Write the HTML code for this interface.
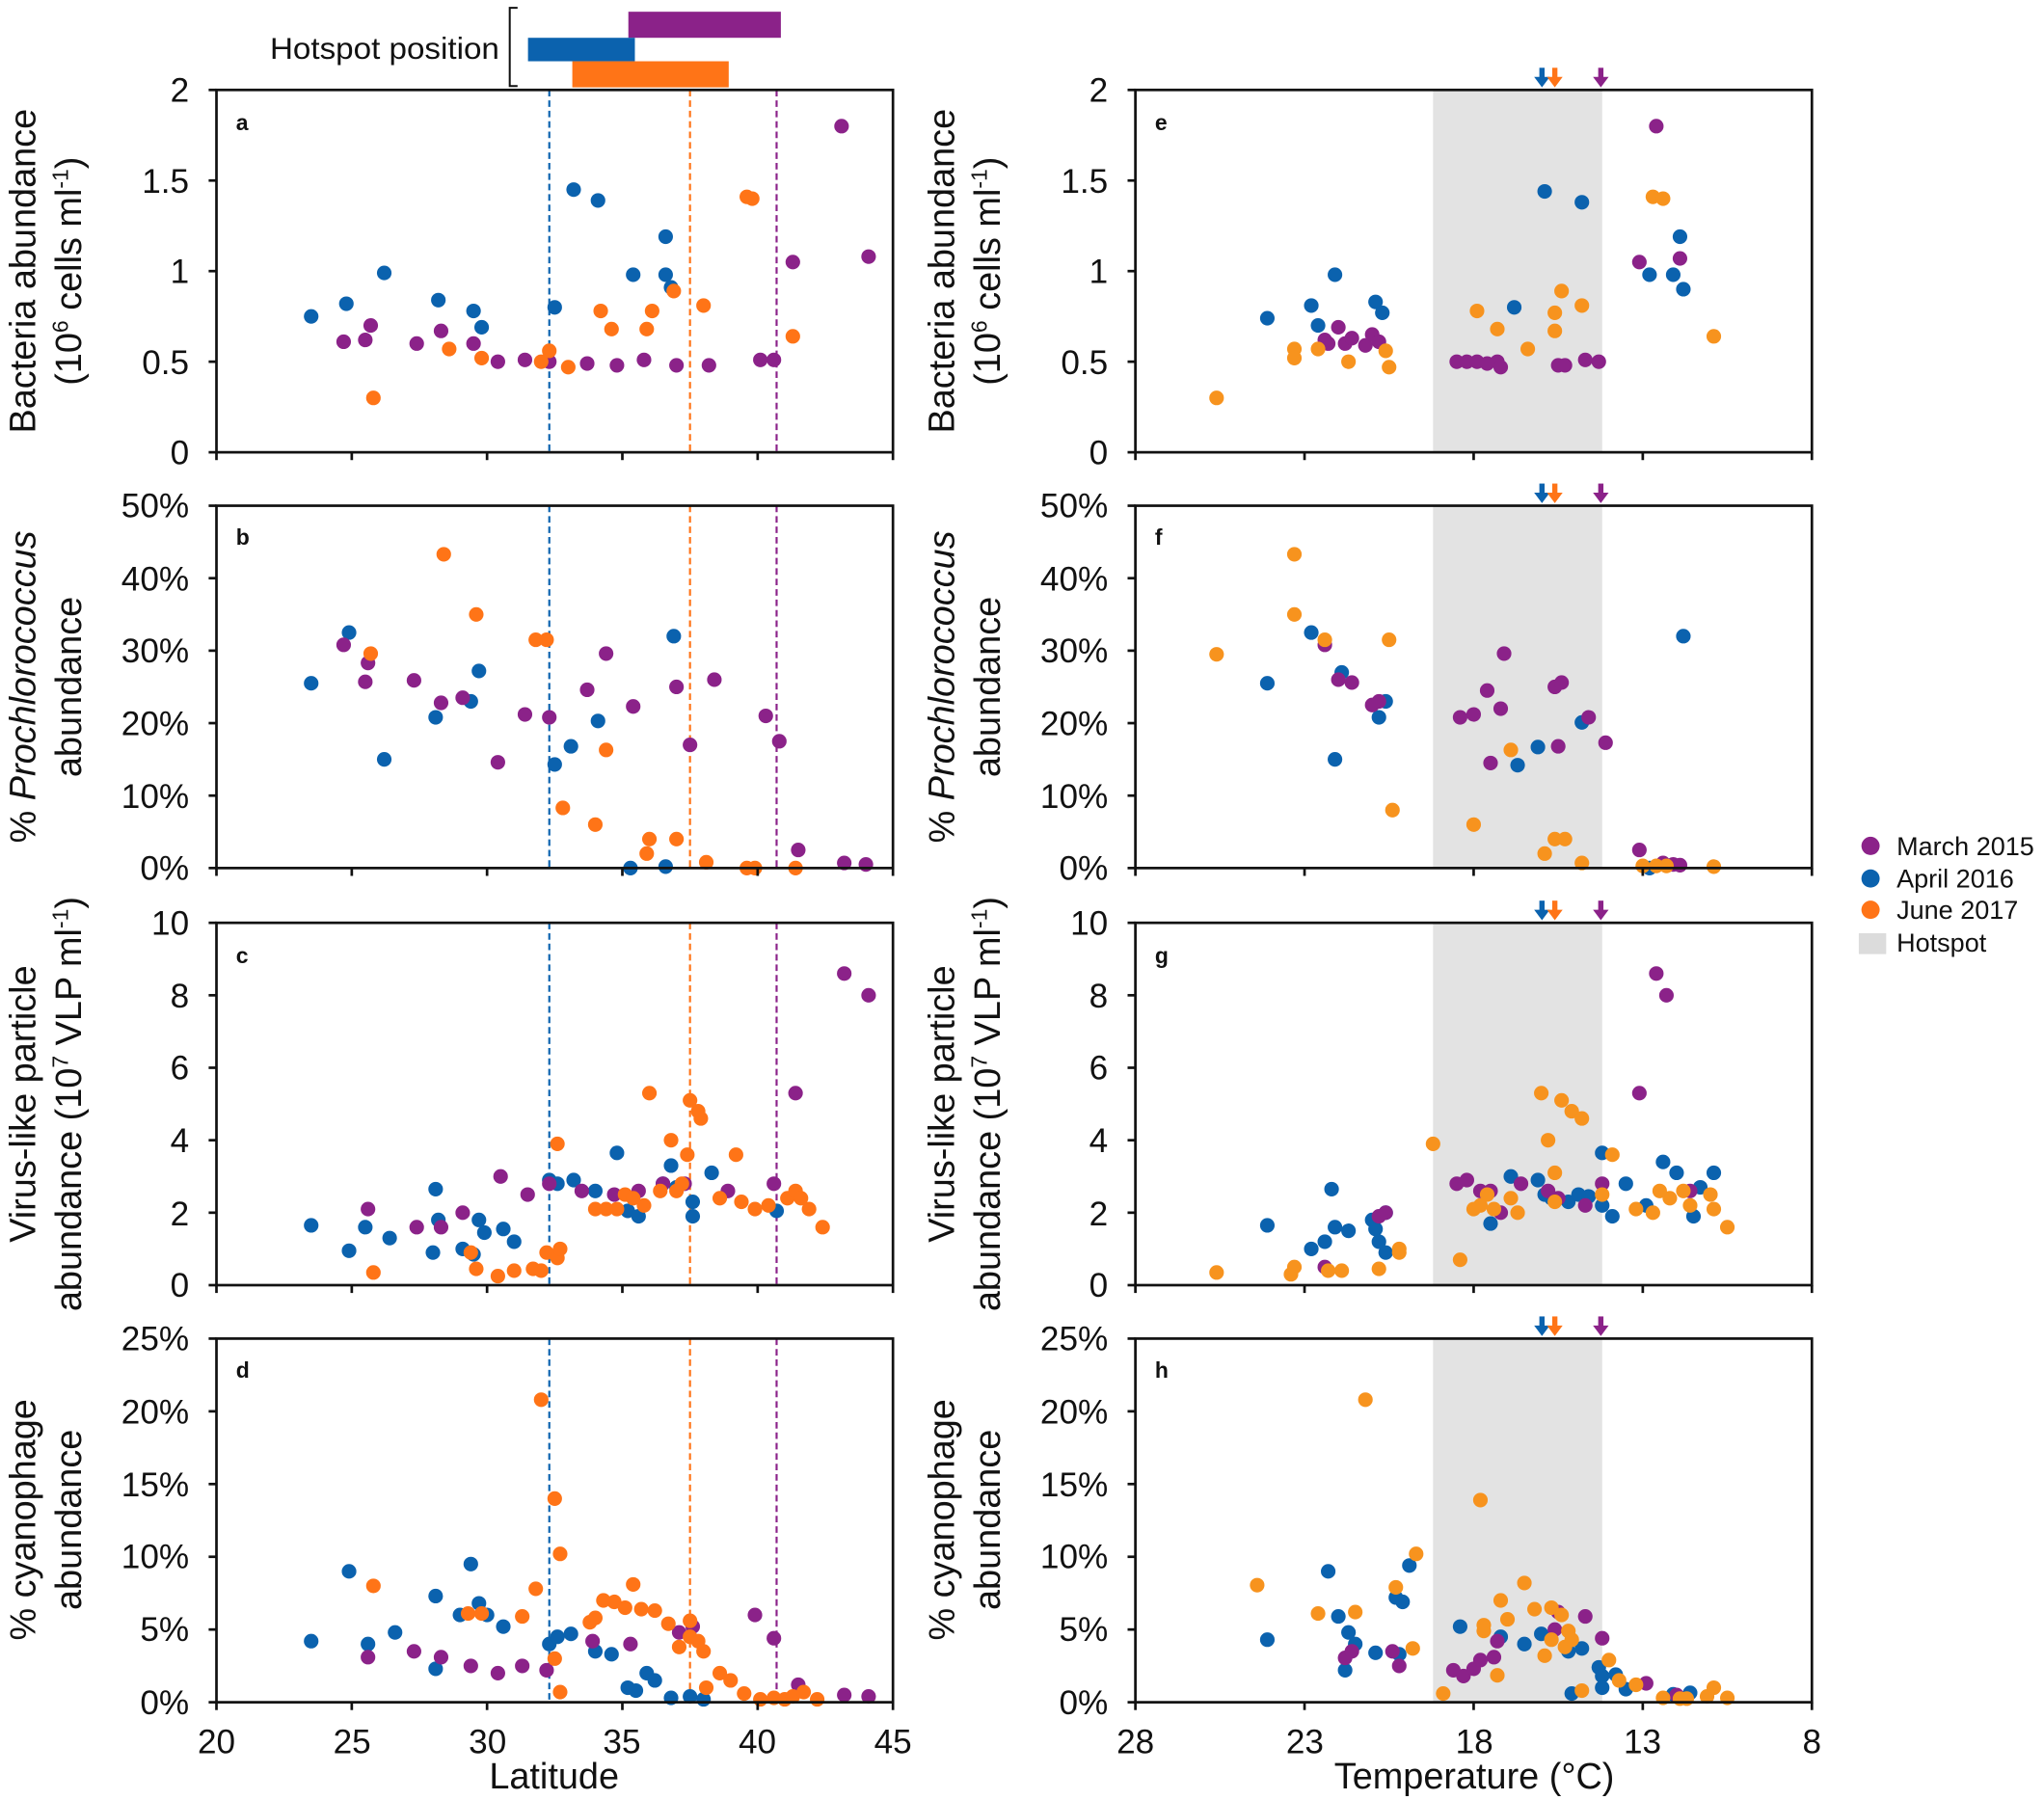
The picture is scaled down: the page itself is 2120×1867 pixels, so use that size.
<!DOCTYPE html>
<html><head><meta charset="utf-8"><style>
html,body{margin:0;padding:0;background:#fff}
svg{display:block}
text{font-family:"Liberation Sans",Arial,sans-serif;fill:#111}
.t{font-size:26px}
.ax{font-size:28px}
.lt{font-size:17px;font-weight:bold}
</style></head><body>
<svg id="s" width="2120" height="1867" viewBox="0 0 1568 1381" xmlns="http://www.w3.org/2000/svg">
<rect width="1568" height="1381" fill="#fff"/>
<rect x="482" y="9" width="117" height="20" fill="#8B2289"/>
<rect x="405" y="29" width="82" height="18" fill="#0B62AE"/>
<rect x="439" y="47" width="120" height="20" fill="#FF7417"/>
<path d="M397 6 H391 V66 H397" fill="none" stroke="#111" stroke-width="1.5"/>
<text x="207" y="45" style="font-size:23px" textLength="176" lengthAdjust="spacingAndGlyphs">Hotspot position</text>
<g id="shade"></g>
<g id="g"></g>
<g class="t" text-anchor="end">
<text x="145" y="78">2</text><text x="145" y="148">1.5</text><text x="145" y="217">1</text><text x="145" y="287">0.5</text><text x="145" y="356">0</text>
<text x="145" y="397">50%</text><text x="145" y="453">40%</text><text x="145" y="508">30%</text><text x="145" y="564">20%</text><text x="145" y="620">10%</text><text x="145" y="675">0%</text>
<text x="145" y="717">10</text><text x="145" y="773">8</text><text x="145" y="828">6</text><text x="145" y="884">4</text><text x="145" y="940">2</text><text x="145" y="995">0</text>
<text x="145" y="1036">25%</text><text x="145" y="1092">20%</text><text x="145" y="1148">15%</text><text x="145" y="1203">10%</text><text x="145" y="1259">5%</text><text x="145" y="1315">0%</text>
</g>
<g class="t" text-anchor="end">
<text x="850" y="78">2</text><text x="850" y="148">1.5</text><text x="850" y="217">1</text><text x="850" y="287">0.5</text><text x="850" y="356">0</text>
<text x="850" y="397">50%</text><text x="850" y="453">40%</text><text x="850" y="508">30%</text><text x="850" y="564">20%</text><text x="850" y="620">10%</text><text x="850" y="675">0%</text>
<text x="850" y="717">10</text><text x="850" y="773">8</text><text x="850" y="828">6</text><text x="850" y="884">4</text><text x="850" y="940">2</text><text x="850" y="995">0</text>
<text x="850" y="1036">25%</text><text x="850" y="1092">20%</text><text x="850" y="1148">15%</text><text x="850" y="1203">10%</text><text x="850" y="1259">5%</text><text x="850" y="1315">0%</text>
</g>
<g class="t" text-anchor="middle">
<text x="166" y="1345">20</text><text x="270" y="1345">25</text><text x="374" y="1345">30</text><text x="477" y="1345">35</text><text x="581" y="1345">40</text><text x="685" y="1345">45</text>
<text x="871" y="1345">28</text><text x="1001" y="1345">23</text><text x="1131" y="1345">18</text><text x="1260" y="1345">13</text><text x="1390" y="1345">8</text>
</g>
<text class="ax" x="425" y="1372" text-anchor="middle">Latitude</text>
<text class="ax" x="1131" y="1372" text-anchor="middle">Temperature (°C)</text>
<g class="ax" text-anchor="middle">
<text transform="translate(27,208) rotate(-90)">Bacteria abundance</text>
<text transform="translate(62,208) rotate(-90)">(10<tspan dy="-10" font-size="17">6</tspan><tspan dy="10"> cells ml</tspan><tspan dy="-10" font-size="17">-1</tspan><tspan dy="10">)</tspan></text>
<text transform="translate(27,527) rotate(-90)">% <tspan font-style="italic">Prochlorococcus</tspan></text>
<text transform="translate(62,527) rotate(-90)">abundance</text>
<text transform="translate(27,847) rotate(-90)">Virus-like particle</text>
<text transform="translate(62,847) rotate(-90)">abundance (10<tspan dy="-10" font-size="17">7</tspan><tspan dy="10"> VLP ml</tspan><tspan dy="-10" font-size="17">-1</tspan><tspan dy="10">)</tspan></text>
<text transform="translate(27,1166) rotate(-90)">% cyanophage</text>
<text transform="translate(62,1166) rotate(-90)">abundance</text>
<text transform="translate(732,208) rotate(-90)">Bacteria abundance</text>
<text transform="translate(767,208) rotate(-90)">(10<tspan dy="-10" font-size="17">6</tspan><tspan dy="10"> cells ml</tspan><tspan dy="-10" font-size="17">-1</tspan><tspan dy="10">)</tspan></text>
<text transform="translate(732,527) rotate(-90)">% <tspan font-style="italic">Prochlorococcus</tspan></text>
<text transform="translate(767,527) rotate(-90)">abundance</text>
<text transform="translate(732,847) rotate(-90)">Virus-like particle</text>
<text transform="translate(767,847) rotate(-90)">abundance (10<tspan dy="-10" font-size="17">7</tspan><tspan dy="10"> VLP ml</tspan><tspan dy="-10" font-size="17">-1</tspan><tspan dy="10">)</tspan></text>
<text transform="translate(732,1166) rotate(-90)">% cyanophage</text>
<text transform="translate(767,1166) rotate(-90)">abundance</text>
</g>
<g class="lt">
<text x="181" y="100">a</text><text x="181" y="418">b</text><text x="181" y="739">c</text><text x="181" y="1057">d</text>
<text x="886" y="100">e</text><text x="886" y="418">f</text><text x="886" y="739">g</text><text x="886" y="1057">h</text>
</g>
<circle cx="1435" cy="649" r="7" fill="#8B2289"/><circle cx="1435" cy="674" r="7" fill="#0B62AE"/><circle cx="1435" cy="698" r="7" fill="#FF7417"/>
<rect x="1426" y="716" width="21" height="16" fill="#dcdcdc"/>
<g style="font-size:20px"><text x="1455" y="656">March 2015</text><text x="1455" y="681">April 2016</text><text x="1455" y="705">June 2017</text><text x="1455" y="730">Hotspot</text></g>
</svg>
<script>
var NS="http://www.w3.org/2000/svg",g=document.getElementById('g'),sh=document.getElementById('shade');
function el(p,n,a){var e=document.createElementNS(NS,n);for(var k in a)e.setAttribute(k,a[k]);p.appendChild(e);return e;}
var P="#8B2289",B="#0B62AE",O="#FF7417",O2="#F7931E";
var tops=[69,388,708,1027],bots=[347,666,986,1306],maxs=[2,50,10,25];
var LX0=166,LX1=685,RX0=871,RX1=1390;
function lx(v){return LX0+(v-20)/25*(LX1-LX0);}
function rx(v){return RX0+(28-v)/20*(RX1-RX0);}
function yy(i,v){return bots[i]-v/maxs[i]*(bots[i]-tops[i]);}
for(var i=0;i<4;i++){el(sh,'rect',{x:rx(19.2),y:tops[i],width:rx(14.2)-rx(19.2),height:bots[i]-tops[i],fill:'#e3e3e3'});}
function pts(s){var a=s.split(/[;,]\s*/).map(Number),r=[];for(var i=0;i+1<a.length;i+=2)r.push([a[i],a[i+1]]);return r;}
var L=[
{b:"23.5,0.75;24.8,0.82;26.2,0.99;28.2,0.84;29.5,0.78;29.8,0.69;32.5,0.8;33.2,1.45;34.1,1.39;35.4,0.98;36.6,0.98;36.6,1.19;36.8,0.91",
 p:"24.7,0.61;25.5,0.62;25.7,0.7;27.4,0.6;28.3,0.67;29.5,0.6;30.4,0.5;31.4,0.51;32.3,0.5;33.7,0.49;34.8,0.48;35.8,0.51;37,0.48;38.2,0.48;40.1,0.51;40.6,0.51;41.3,1.05;43.1,1.8;44.1,1.08",
 o:"25.8,0.3;28.6,0.57;29.8,0.52;32.0,0.5;32.3,0.56;33.0,0.47;34.2,0.78;34.6,0.68;35.9,0.68;36.1,0.78;36.9,0.89;38,0.81;39.6,1.41;39.8,1.40;41.3,0.64"},
{b:"23.5,25.5;24.9,32.5;26.2,15;28.1,20.8;29.4,23;29.7,27.2;32.5,14.3;33.1,16.8;34.1,20.3;35.3,0;36.6,0.2;36.9,32",
 p:"24.7,30.8;25.5,25.7;25.6,28.3;27.3,25.9;28.3,22.8;29.1,23.5;30.4,14.6;31.4,21.2;32.3,20.8;33.7,24.6;34.4,29.6;35.4,22.3;37,25;37.5,17;38.4,26;40.3,21;40.8,17.5;41.5,2.5;43.2,0.7;44,0.5",
 o:"25.7,29.6;28.4,43.3;29.6,35;31.8,31.5;32.2,31.5;32.8,8.3;34,6;34.4,16.3;35.9,2;36,4;37,4;38.1,0.8;39.6,0;39.9,0;41.4,0"},
{b:"23.5,1.65;24.9,0.95;25.5,1.6;26.4,1.3;28,0.9;28.1,2.65;28.2,1.8;29.1,1;29.5,0.85;29.7,1.8;29.9,1.45;30.6,1.55;31,1.2;32.3,2.9;32.6,2.8;33.2,2.9;34,2.6;34.8,3.65;35.2,2.05;35.6,1.9;36.5,2.8;36.8,3.3;37,2.7;37.6,2.3;37.6,1.9;38.3,3.1;40.7,2.05",
 p:"25.6,2.1;27.4,1.6;28.3,1.6;29.1,2;30.5,3;31.5,2.5;32.3,2.8;33.5,2.6;34.7,2.5;35.6,2.6;36.5,2.8;37.3,2.8;38.9,2.6;40.6,2.8;41.4,5.3;43.2,8.6;44.1,8",
 o:"25.8,0.35;29.4,0.9;29.6,0.45;30.4,0.25;31,0.4;31.7,0.45;32,0.4;32.2,0.9;32.6,0.75;32.7,1;32.6,3.9;34,2.1;34.4,2.1;34.8,2.1;35.1,2.5;35.4,2.4;35.8,2.2;36,5.3;36.8,4;37.4,3.6;37.5,5.1;37.8,4.8;37.9,4.6;37.2,2.8;38.6,2.4;39.2,3.6;39.4,2.3;39.9,2.1;40.4,2.2;41.1,2.4;41.4,2.6;41.6,2.4;41.9,2.1;42.4,1.6;36.4,2.6;37.0,2.6"},
{b:"23.5,4.2;24.9,9;25.6,4;26.6,4.8;28.1,7.3;28.1,2.3;29,6;29.4,9.5;29.7,6.8;30,6;30.6,5.2;32.3,4;32.6,4.5;33.1,4.7;34,3.5;34.6,3.3;35.2,1;35.5,0.8;35.9,2;36.2,1.5;36.8,0.3;37.5,0.4;38,0.2",
 p:"25.6,3.1;27.3,3.5;28.3,3.1;29.4,2.5;30.4,2;31.3,2.5;32.2,2.2;33.9,4.2;35.3,4;37.1,4.8;37.6,5.2;39.9,6;40.6,4.4;41.5,1.2;43.2,0.5;44.1,0.4",
 o:"25.8,8;29.3,6.1;29.8,6.1;31.3,5.9;31.8,7.8;32,20.8;32.5,14;32.7,10.2;32.5,3;32.7,0.7;33.8,5.5;34,5.8;34.3,7;34.7,6.9;35.1,6.5;35.4,8.1;35.7,6.4;36.2,6.3;36.7,5.4;37.1,3.8;37.5,5.6;37.5,4.5;38,3.5;38.1,1;38.6,2;39,1.5;39.5,0.6;40.1,0.2;40.6,0.3;41,0.2;41.3,0.4;41.7,0.7;42.2,0.2;37.8,4.2"}];
var R=[
{b:"24.1,0.74;22.8,0.81;22.1,0.98;20.9,0.83;20.7,0.77;16.8,0.80;15.9,1.44;14.8,1.38;12.8,0.98;12.1,0.98;11.9,1.19;11.8,0.9;22.6,0.7",
 p:"22.3,0.6;22.0,0.69;21.8,0.6;21.6,0.63;21.2,0.59;21,0.65;20.8,0.61;18.5,0.5;18.2,0.5;17.9,0.5;17.6,0.49;17.3,0.5;17.2,0.47;15.5,0.48;15.3,0.48;14.7,0.51;14.3,0.5;13.1,1.05;12.6,1.8;11.9,1.07;22.4,0.62",
 o:"25.6,0.3;23.3,0.57;23.3,0.52;22.6,0.57;21.7,0.5;20.6,0.56;20.5,0.47;17.9,0.78;17.3,0.68;16.4,0.57;15.6,0.67;15.6,0.77;15.4,0.89;14.8,0.81;12.7,1.41;12.4,1.4;10.9,0.64"},
{b:"24.1,25.5;22.8,32.5;22.1,15;21.9,27;20.8,20.8;20.6,23;16.7,14.2;16.1,16.7;14.8,20.1;12.8,0;11.8,32",
 p:"22.4,30.8;22,26;21.6,25.6;21,22.5;20.8,23;18.4,20.8;18,21.2;17.6,24.5;17.2,22;17.1,29.6;17.5,14.5;15.6,25;15.4,25.6;15.5,16.8;14.6,20.8;14.1,17.3;13.1,2.5;12.4,0.7;12.1,0.5;11.9,0.4",
 o:"25.6,29.5;23.3,43.3;23.3,35;22.4,31.5;20.5,31.5;20.4,8;18.0,6;16.9,16.3;15.9,2;15.6,4;15.3,4;14.8,0.7;13.0,0.3;12.6,0.3;12.3,0.3;10.9,0.2"},
{b:"24.1,1.65;22.8,1;22.4,1.2;22.2,2.65;22.1,1.6;21.7,1.5;21,1.8;20.9,1.55;20.8,1.2;20.6,0.9;20.6,2;17.5,1.7;16.9,3;16.1,2.9;15.7,2.4;15.2,2.3;14.9,2.5;14.6,2.45;14.2,2.2;14.2,3.65;13.9,1.9;13.5,2.8;12.4,3.4;12,3.1;11.5,1.9;11.3,2.7;10.9,3.1;12.9,2.2;15.9,2.5",
 p:"22.4,0.5;20.8,1.9;20.6,2;18.5,2.8;18.2,2.9;17.8,2.6;17.5,2.6;17.2,2;16.6,2.8;15.8,2.6;15.5,2.4;14.7,2.2;14.2,2.8;13.1,5.3;12.6,8.6;12.3,8;11.6,2.6",
 o:"25.6,0.35;23.4,0.3;23.3,0.5;22.3,0.4;21.9,0.4;20.8,0.45;20.2,0.9;20.2,1;19.2,3.9;18.4,0.7;18.0,2.1;17.8,2.2;17.6,2.5;17.4,2.1;16.9,2.4;16.7,2;16,5.3;15.8,4;15.6,2.3;15.6,3.1;15.4,5.1;15.1,4.8;14.8,4.6;14.2,2.5;13.9,3.6;13.2,2.1;12.7,2.0;12.2,2.4;11.8,2.6;11.6,2.2;11.0,2.5;10.9,2.1;10.5,1.6;12.5,2.6"},
{b:"24.1,4.3;22.3,9;22,5.9;21.7,4.8;21.5,4;21.8,2.2;20.9,3.4;20.3,7.2;20.1,6.9;19.9,9.4;20.2,3.3;18.4,5.2;17.2,4.5;16.5,4;16,4.7;15.2,3.5;14.8,3.7;15.1,0.6;14.3,2.4;14.2,1.8;14.2,1;13.8,1.9;13.5,0.9;12.1,0.55;11.6,0.65",
 p:"21.8,3.05;21.6,3.5;20.2,2.5;20.4,3.5;18.6,2.2;18.3,1.8;18,2.3;17.8,2.9;17.4,3.1;17.3,4.2;15.6,5;15.5,6.2;14.7,5.9;14.2,4.4;12.9,1.3;12.0,0.5",
 o:"24.4,8.05;22.6,6.1;21.5,6.2;21.2,20.8;20.3,7.9;19.8,3.7;19.7,10.2;18.9,0.6;17.8,13.9;17.7,5.3;17.7,4.9;17.3,1.85;17.2,7;17,5.7;16.5,8.2;16.2,6.4;15.9,3.2;15.7,4.3;15.7,6.5;15.4,6;15.3,3.8;15.2,4.9;15.1,4.3;14.8,0.8;14.0,2.9;13.7,1.5;13.2,1.2;12.4,0.3;11.9,0.25;11.7,0.25;11.1,0.4;10.9,1;10.5,0.3"}];
for(var i=0;i<4;i++){
 [[32.3,B],[37.5,O],[40.7,P]].forEach(function(v){el(g,'line',{x1:lx(v[0]),x2:lx(v[0]),y1:tops[i],y2:bots[i],stroke:v[1],'stroke-width':1.6,'stroke-dasharray':'5,3'});});
 [['b',B],['p',P],['o',O]].forEach(function(c){pts(L[i][c[0]]).forEach(function(q){el(g,'circle',{cx:lx(q[0]),cy:yy(i,q[1]),r:5.6,fill:c[1]});});});
 [['b',B],['p',P],['o',O2]].forEach(function(c){pts(R[i][c[0]]).forEach(function(q){el(g,'circle',{cx:rx(q[0]),cy:yy(i,q[1]),r:5.6,fill:c[1]});});});
 [[LX0,LX1,lx,[20,25,30,35,40,45]],[RX0,RX1,rx,[28,23,18,13,8]]].forEach(function(f){
  el(g,'rect',{x:f[0],y:tops[i],width:f[1]-f[0],height:bots[i]-tops[i],fill:'none',stroke:'#111','stroke-width':2});
  f[3].forEach(function(t){el(g,'line',{x1:f[2](t),x2:f[2](t),y1:bots[i],y2:bots[i]+6,stroke:'#111','stroke-width':2});});
  var n=(i==0)?4:5;
  for(var k=0;k<=n;k++){var y=bots[i]-k*(bots[i]-tops[i])/n;el(g,'line',{x1:f[0]-6,x2:f[0],y1:y,y2:y,stroke:'#111','stroke-width':2});}
 });
 [[15.98,B],[15.6,O],[14.24,P]].forEach(function(a){var x=rx(a[0]),t=tops[i];
  el(g,'rect',{x:x-2,y:t-17,width:4,height:8,fill:a[1]});
  el(g,'path',{d:'M'+(x-6)+' '+(t-10)+' L'+(x+6)+' '+(t-10)+' L'+x+' '+(t-2)+'Z',fill:a[1]});});
}
</script>
</body></html>
